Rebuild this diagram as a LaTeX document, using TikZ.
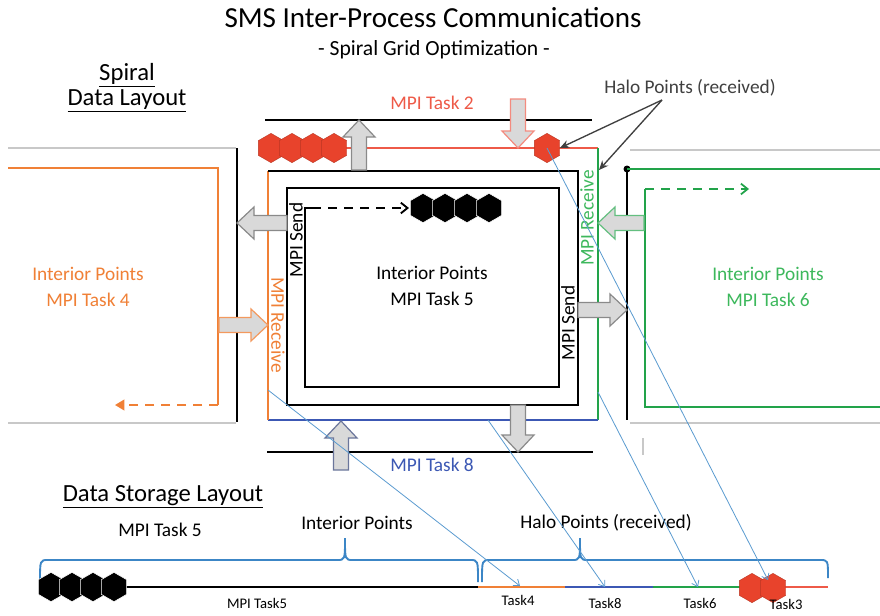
\documentclass[tikz,border=0pt]{standalone}
\usepackage{fontspec}
\setmainfont{Carlito}
\usetikzlibrary{arrows.meta,shapes.geometric}

\definecolor{haloRed}{HTML}{E8432C}
\definecolor{taskRed}{HTML}{EE5A48}
\definecolor{taskOrange}{HTML}{F08036}
\definecolor{taskGreen}{HTML}{22A34A}
\definecolor{taskGreenText}{HTML}{3DB85C}
\definecolor{taskBlue}{HTML}{3C58B4}
\definecolor{mapBlue}{HTML}{5A9BD0}
\definecolor{edgeGray}{HTML}{C8C8C8}
\definecolor{blockFill}{HTML}{D9D9D9}
\definecolor{blockEdge}{HTML}{8A8A8A}
\definecolor{braceBlue}{HTML}{3C86C6}
\definecolor{labelGray}{HTML}{404040}

% fat block arrow: #1 outline colour, (#2,#3) tail, #4 length, #5 direction angle
\newcommand{\blockarrow}[5]{%
  \begin{scope}[shift={(#2,#3)},rotate=#5]
    \draw[fill=blockFill,draw=#1,line width=0.9pt,line join=miter]
      (0,-7.5) -- (#4-17,-7.5) -- (#4-17,-16) -- (#4,0) -- (#4-17,16) -- (#4-17,7.5) -- (0,7.5) -- cycle;
  \end{scope}}

\tikzset{
  spiral/.style={line width=1.7pt,black},
  boundary/.style={line width=1.5pt,black},
  ring/.style={line width=1.3pt},
  grayedge/.style={line width=1.6pt,edgeGray},
  mapline/.style={line width=0.6pt,mapBlue,-{Straight Barb[length=4pt,width=6pt]}},
  pointer/.style={line width=1pt,labelGray,-{Stealth[length=7pt,width=6pt]}},
  hexbase/.style={regular polygon,regular polygon sides=6,shape border rotate=30,minimum size=22,inner sep=0pt},
  hexred/.style={hexbase,fill=haloRed,draw=haloRed!80!black,line width=0.3pt},
  hexblack/.style={hexbase,fill=black,draw=white,line width=0.4pt},
  brace/.style={line width=1.4pt,braceBlue},
  lbl/.style={inner sep=0pt,font=\fontsize{14.5}{16}\selectfont},
  heading/.style={inner sep=0pt,font=\fontsize{18.5}{21}\selectfont},
  small/.style={inner sep=0pt,font=\fontsize{11}{12}\selectfont},
}

\begin{document}
\begin{tikzpicture}[x=0.75pt,y=-0.75pt]
\useasboundingbox (0,0) rectangle (880,615);
\fill[white] (0,0) rectangle (880,615);

% ---------- titles ----------
\node[inner sep=0pt,font=\fontsize{21.8}{24}\selectfont] (title) at (433,18) {SMS Inter-Process Communications};
\node[inner sep=0pt,font=\fontsize{16.2}{18}\selectfont] (subtitle) at (434,50) {- Spiral Grid Optimization -};
\node[heading] (spiralhd) at (127,75) {\underline{Spiral}};
\node[heading] (layouthd) at (127,101) {\underline{Data Layout}};

% ---------- neighbour boundaries ----------
\draw[boundary] (265,120) -- (592,120);
\draw[boundary] (267,452) -- (593,452);
\draw[boundary] (237,148) -- (237,422);
\draw[boundary] (627,169) -- (627,420);
\fill (627,169) circle (3.5);
\draw[grayedge] (8,148) -- (236,148);
\draw[grayedge] (8,423) -- (236,423);
\draw[grayedge] (630,150) -- (880,150);
\draw[grayedge] (630,423) -- (880,423);
\draw[grayedge] (643,438) -- (643,455);

% ---------- task 4 (left) ----------
\draw[ring,taskOrange] (8,168) -- (218,168) -- (218,405);
\draw[ring,taskOrange,dashed,dash pattern=on 7pt off 5pt,-{Triangle[length=7pt,width=8pt]}] (218,405) -- (115,405);
\node[lbl,text=taskOrange,align=center] (t4) at (88,287) {Interior Points\\[3pt]MPI Task 4};

% ---------- task 6 (right) ----------
\draw[ring,taskGreen] (627,169) -- (880,169);
\draw[ring,taskGreen] (645,189) -- (645,407) -- (880,407);
\draw[ring,taskGreen,dashed,dash pattern=on 7pt off 5pt,-{Straight Barb[length=5pt,width=8pt]}] (645,189) -- (749,189);
\node[lbl,text=taskGreenText,align=center] (t6) at (768,287) {Interior Points\\[3pt]MPI Task 6};

% ---------- halo ring of task 5 ----------
\draw[ring,taskRed] (270,148) -- (598,148);
\draw[ring,taskGreen] (598,148) -- (598,420);
\draw[ring,taskBlue] (598,420) -- (268,420);
\draw[ring,taskOrange] (268,420) -- (268,171);

% ---------- interior spiral of task 5 ----------
\draw[spiral,line join=miter] (268,171) -- (578,171) -- (578,405) -- (287,405) -- (287,188)
  -- (559,188) -- (559,387) -- (305,387) -- (305,208) -- (312,208);
\draw[line width=1.4pt,dashed,dash pattern=on 7pt off 5pt,-{Straight Barb[length=5pt,width=8pt]}] (312,208) -- (409,208);

\node[hexblack] (b1) at (423,208) {};
\node[hexblack] (b2) at (445,208) {};
\node[hexblack] (b3) at (467,208) {};
\node[hexblack] (b4) at (489,208) {};

\node[hexred] (r1) at (271,148) {};
\node[hexred] (r2) at (292,148) {};
\node[hexred] (r3) at (313,148) {};
\node[hexred] (r4) at (334,148) {};
\node[hexred] (rh) at (547,148) {};

\node[lbl,align=center] (t5) at (432,286) {Interior Points\\[3pt]MPI Task 5};
\node[lbl,text=taskRed] (t2) at (432,103) {MPI Task 2};
\node[lbl,text=taskBlue] (t8) at (432,465) {MPI Task 8};

\node[lbl,rotate=90] (sendL) at (296,240) {MPI Send};
\node[lbl,rotate=-90,text=taskOrange] (recvL) at (278,325) {MPI Receive};
\node[lbl,rotate=90,text=taskGreenText] (recvR) at (587,218) {MPI Receive};
\node[lbl,rotate=90] (sendR) at (568,323) {MPI Send};

% ---------- block arrows ----------
\blockarrow{blockEdge}{359}{170}{50}{90}
\blockarrow{taskRed!70}{518}{99}{49}{-90}
\blockarrow{blockEdge}{287}{223}{50}{180}
\blockarrow{taskGreen!70}{644}{223}{46}{180}
\blockarrow{blockEdge}{578}{310}{49}{0}
\blockarrow{taskOrange!80}{219}{325}{49}{0}
\blockarrow{blockEdge}{518}{405}{47}{-90}
\blockarrow{taskBlue!40!blockEdge}{341}{470}{49}{90}

% ---------- halo label ----------
\node[lbl,text=labelGray] (halolbl) at (690,88) {Halo Points (received)};
\coordinate (halofork) at (662,100);
\coordinate (ringcorner) at (599,170);
\draw[pointer] (halofork) -- (rh.east);
\draw[pointer] (halofork) -- (ringcorner);

% ---------- data storage layout ----------
\node[heading] (storehd) at (163,497) {\underline{Data Storage Layout}};
\node[lbl] (st5) at (160,530) {MPI Task 5};
\node[lbl] (stint) at (357,523) {Interior Points};
\node[lbl] (sthalo) at (606,523) {Halo Points (received)};

\draw[brace] (40,582) .. controls (40,560) .. (48,560) -- (337,560)
  .. controls (345,560) .. (345,538) .. controls (345,560) .. (353,560) -- (470,560)
  .. controls (478,560) .. (478,582);
\draw[brace] (482,582) .. controls (482,560) .. (490,560) -- (572,560)
  .. controls (580,560) .. (580,538) .. controls (580,560) .. (588,560) -- (820,560)
  .. controls (828,560) .. (828,578);

\draw[line width=2pt,black] (40,587) -- (478,587);
\draw[line width=2pt,taskOrange] (478,587) -- (565,587);
\draw[line width=2pt,taskBlue] (565,587) -- (653,587);
\draw[line width=2pt,taskGreen] (653,587) -- (742,587);
\draw[line width=2pt,taskRed] (742,587) -- (828,587);

\node[hexblack] (s1) at (51,587) {};
\node[hexblack] (s2) at (72,587) {};
\node[hexblack] (s3) at (93,587) {};
\node[hexblack] (s4) at (114,587) {};
\node[hexred] (sr1) at (752,588) {};
\node[hexred] (sr2) at (773,588) {};

\node[small] (lt5) at (257,603) {MPI Task5};
\node[small] (lt4) at (518,600) {Task4};
\node[small] (lt8) at (605,603) {Task8};
\node[small] (lt6) at (700,603) {Task6};
\node[small] (lt3) at (786,604) {Task3};

% ---------- mapping of halo points into storage ----------
\coordinate (src4) at (268,390);
\coordinate (dst4) at (520,586);
\coordinate (src8) at (488,420);
\coordinate (dst8) at (605,587);
\coordinate (src6) at (598,392);
\coordinate (dst6) at (698,587);
\coordinate (dst3) at (768,580);
\draw[mapline] (src4) -- (dst4);
\draw[mapline] (src8) -- (dst8);
\draw[mapline] (src6) -- (dst6);
\draw[mapline] (rh.center) -- (dst3);
\end{tikzpicture}
\end{document}
